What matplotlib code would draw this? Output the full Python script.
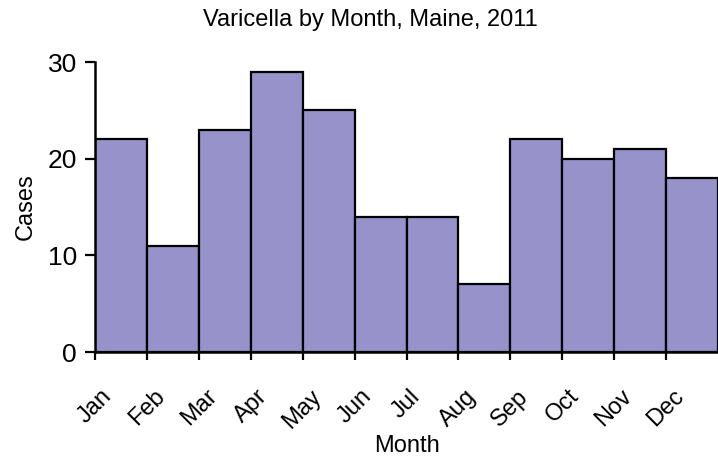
import matplotlib
matplotlib.use("Agg")
import matplotlib.pyplot as plt
import numpy as np

months = ["Jan", "Feb", "Mar", "Apr", "May", "Jun", "Jul", "Aug", "Sep", "Oct", "Nov", "Dec"]
cases = [22, 11, 23, 29, 25, 14, 14, 7, 22, 20, 21, 18]
yticks = [0, 10, 20, 30]

plt.rcParams['font.family'] = ['Liberation Sans', 'DejaVu Sans']

fig = plt.figure(figsize=(7.18, 4.58), dpi=100)
ax = fig.add_axes([95/718, 106/458, 1 - 95/718, 290/458])

x = np.arange(len(months))
ax.bar(x, cases, width=1.0, align='edge', color='#9792CA', edgecolor='black', linewidth=1.6)

ax.set_xlim(0, 12)
ax.set_ylim(0, 30)
ax.set_yticks(yticks)
ax.set_xticks(x)
ax.set_xticklabels(months, rotation=45, ha='center', va='top', fontsize=17)
ax.tick_params(axis='y', labelsize=19, direction='out', length=7, width=1.6, pad=6)
ax.tick_params(axis='x', direction='out', length=6, width=1.6, pad=18)
for s in ['top', 'right']:
    ax.spines[s].set_visible(False)
for s in ['left', 'bottom']:
    ax.spines[s].set_linewidth(1.8)

ax.set_ylabel('Cases', fontsize=17, labelpad=8)
ax.set_xlabel('Month', fontsize=17, labelpad=2)
fig.text(370/718, 1 - 20/458, 'Varicella by Month, Maine, 2011', ha='center', va='center', fontsize=17)

fig.savefig('out.png', dpi=100)
